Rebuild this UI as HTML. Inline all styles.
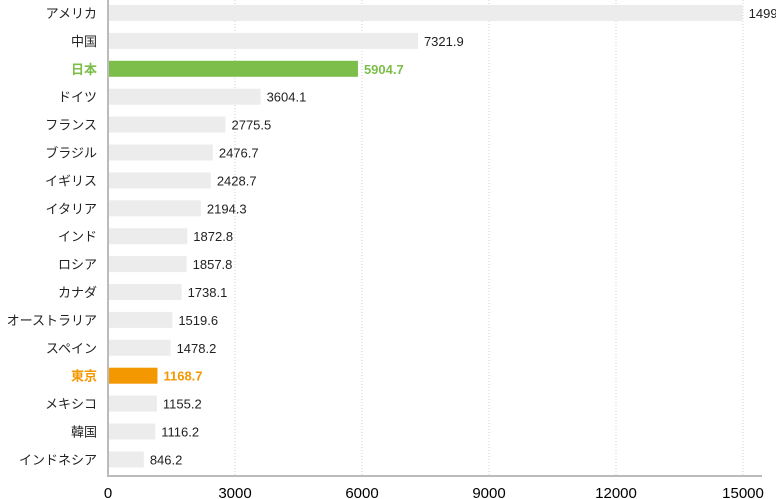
<!DOCTYPE html>
<html><head><meta charset="utf-8"><style>
body{margin:0;background:#fff;}
svg{display:block;font-family:"Liberation Sans","Noto Sans CJK JP",sans-serif;}
</style></head><body>
<svg id="chart" width="776" height="499" viewBox="0 0 776 499"></svg>
<script>
const categories=["アメリカ","中国","日本","ドイツ","フランス","ブラジル","イギリス","イタリア","インド","ロシア","カナダ","オーストラリア","スペイン","東京","メキシコ","韓国","インドネシア"];
const values=[14991.3,7321.9,5904.7,3604.1,2775.5,2476.7,2428.7,2194.3,1872.8,1857.8,1738.1,1519.6,1478.2,1168.7,1155.2,1116.2,846.2];
const ticks=[0,3000,6000,9000,12000,15000];
const highlights={"日本":"#7dbe4a","東京":"#f39800"};
const NS="http://www.w3.org/2000/svg";
const svg=document.getElementById('chart');
const x0=108,pxPer=127/3000,rowTop=13,rowStep=27.9,barH=16,axisY=476;
const xs=v=>x0+v*pxPer;
const ys=i=>rowTop+i*rowStep;
function mk(t,a){const e=document.createElementNS(NS,t);for(const k in a)e.setAttribute(k,a[k]);svg.appendChild(e);return e;}
ticks.forEach(t=>{
  if(t>0){const g=mk('line',{x1:xs(t),x2:xs(t),y1:0,y2:axisY,stroke:'#d0d0d0','stroke-dasharray':'1,2'});
  
  }
  const l=mk('text',{x:xs(t),y:498,'text-anchor':'middle','font-size':15,fill:'#000'});
  l.textContent=t;
  
  
});
categories.forEach((c,i)=>{
  const col=highlights[c];
  const cy=ys(i);
  const r=mk('rect',{x:x0,y:cy-barH/2,width:xs(values[i])-x0,height:barH,fill:col||'#ececec'});
  
  
  const lb=mk('text',{x:97,y:cy+5,'text-anchor':'end','font-size':13,fill:col||'#222','font-weight':col?'bold':'normal'});
  lb.textContent=c;
  
  
  const vl=mk('text',{x:xs(values[i])+6,y:cy+5,'font-size':13,fill:col||'#222','font-weight':col?'bold':'normal'});
  vl.textContent=values[i].toFixed(1);
  
  
});
const ya=mk('line',{x1:x0,x2:x0,y1:0,y2:axisY,stroke:'#bbb','stroke-width':2});


const xa=mk('line',{x1:x0-1,x2:762,y1:axisY,y2:axisY,stroke:'#bbb','stroke-width':2});


</script>
</body></html>
